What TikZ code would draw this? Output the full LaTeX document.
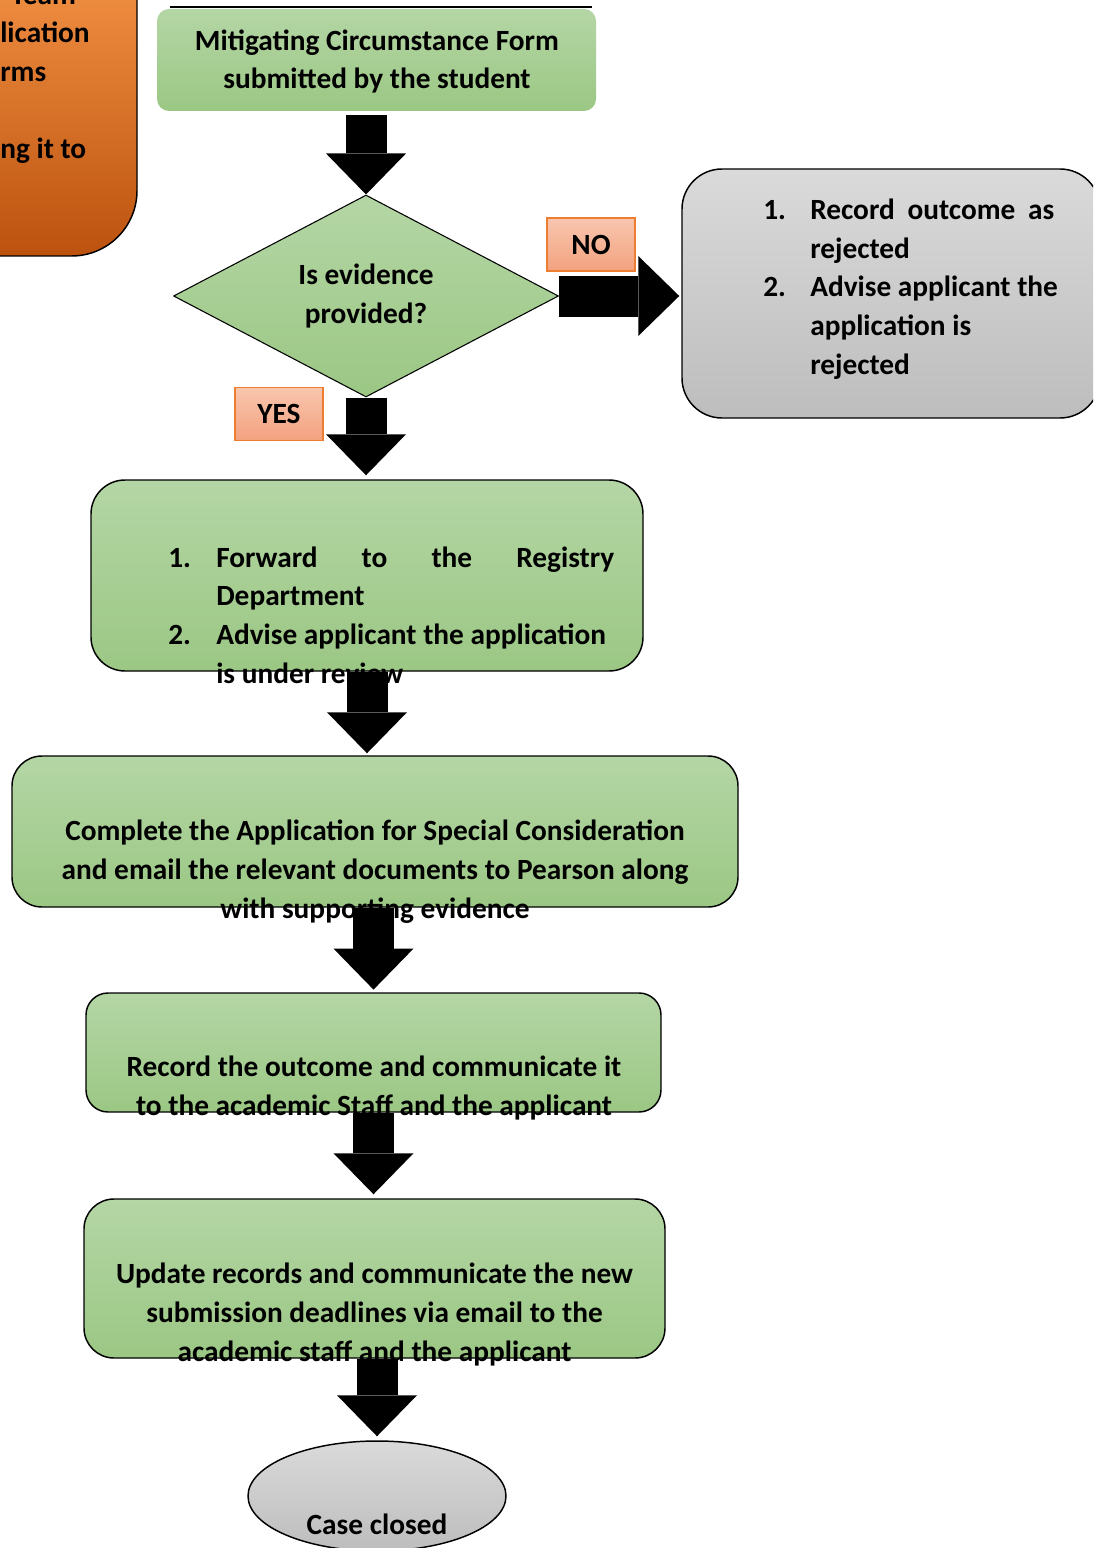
\documentclass[tikz,border=0pt]{standalone}
\usepackage{fontspec}
\setmainfont{Carlito}
\usetikzlibrary{shapes.geometric,arrows.meta}

\definecolor{grn1}{HTML}{B4D6A5}
\definecolor{grn2}{HTML}{9BC784}
\definecolor{gry1}{HTML}{DADADA}
\definecolor{gry2}{HTML}{BDBDBD}
\definecolor{tag1}{HTML}{F8C6AE}
\definecolor{tag2}{HTML}{F3A27F}
\definecolor{tagline}{HTML}{ED7D31}
\definecolor{orn1}{HTML}{FFA051}
\definecolor{orn2}{HTML}{BC520E}

\tikzset{
  every node/.style={font=\bfseries\fontsize{22}{29}\selectfont, inner sep=0pt},
  greenfill/.style={top color=grn1, bottom color=grn2},
  greenbox/.style={greenfill, draw=black, line width=1.1pt},
  greybox/.style={top color=gry1, bottom color=gry2, draw=black, line width=1.1pt},
  tagbox/.style={top color=tag1, bottom color=tag2, draw=tagline, line width=1.1pt, minimum width=66pt, minimum height=39.75pt},
  bigarrow/.style={draw=black, line width=30.75pt, -{Triangle[width=60pt,length=30.75pt,line width=0pt]}},
}

\begin{document}
\begin{tikzpicture}[x=0.75pt, y=-0.75pt]
\useasboundingbox (0,0) rectangle (1093,1548);
\clip (0,0) rectangle (1093,1548);

\node [top color=orn1, bottom color=orn2, draw=black, line width=1.1pt, rounded corners=49pt, minimum width=252.75pt, minimum height=267pt] (v0) at (-31.5,78) {};
\node [anchor=base west, align=left] (t0) at (0,159) {\hspace*{8pt}Team\\lication\\rms\\[29pt]ng it to};

\node [greenfill, rounded corners=9pt, minimum width=329.25pt, minimum height=76.5pt] (v1) at (376.5,60) {};
\draw [line width=1.3pt] (v1.north west) ++(13,-2) -- ++(422,0);
\node [anchor=base, align=center] (t1) at (377,89) {Mitigating Circumstance Form\\submitted by the student};

\node [diamond, greenfill, draw=black, line width=0.8pt, minimum width=288.75pt, minimum height=151.5pt, align=center] (v2) at (366,296) {Is evidence\\provided?};

\node [tagbox] (v3) at (591,244.5) {NO};
\node [tagbox] (v4) at (279,414) {YES};

\node [greybox, rounded corners=30pt, minimum width=313.5pt, minimum height=186.75pt] (v5) at (891,293.5) {};
\node [anchor=base west, align=left] (t5) at (763,374) {\makebox[35.25pt][l]{1.}\makebox[183pt][s]{Record outcome as}\\\hspace*{35.25pt}rejected\\\makebox[35.25pt][l]{2.}Advise applicant the\\\hspace*{35.25pt}application is\\\hspace*{35.25pt}rejected};

\node [greenbox, rounded corners=25.5pt, minimum width=414pt, minimum height=143.25pt] (v6) at (367,575.5) {};
\node [anchor=base west, align=left] (t6) at (168,683) {\makebox[36pt][l]{1.}\makebox[298.5pt][s]{Forward to the Registry}\\\hspace*{36pt}Department\\\makebox[36pt][l]{2.}Advise applicant the application\\\hspace*{36pt}is under review};

\node [greenbox, rounded corners=22.5pt, minimum width=544.5pt, minimum height=113.25pt] (v7) at (375,831.5) {};
\node [anchor=base, align=center] (t7) at (375,918) {Complete the Application for Special Consideration\\and email the relevant documents to Pearson along\\with supporting evidence};

\node [greenbox, rounded corners=16.5pt, minimum width=431.25pt, minimum height=89.25pt] (v8) at (373.5,1052.5) {};
\node [anchor=base, align=center] (t8) at (374,1115) {Record the outcome and communicate it\\to the academic Staff and the applicant};

\node [greenbox, rounded corners=22.5pt, minimum width=435.75pt, minimum height=119.25pt] (v9) at (374.5,1278.5) {};
\node [anchor=base, align=center] (t9) at (374.5,1361) {Update records and communicate the new\\submission deadlines via email to the\\academic staff and the applicant};

\node [ellipse, greybox, minimum width=193.5pt, minimum height=82.5pt] (v10) at (377,1496) {};
\node [anchor=base] (t10) at (377,1534) {Case closed};

\draw [bigarrow, shorten <=3pt] (v1.south -| v2.north) -- (v2.north);
\draw [bigarrow, shorten >=1.5pt] (v2.east) -- (v2.east -| v5.west);
\draw [bigarrow, shorten >=3pt] (v2.south) -- (v2.south |- v6.north);
\draw [bigarrow, shorten >=1.5pt] (v6.south) -- (v6.south |- v7.north);
\draw [bigarrow, shorten >=2pt] (v8.north |- v7.south) -- (v8.north);
\draw [bigarrow, shorten >=3pt] (v8.south) -- (v8.south |- v9.north);
\draw [bigarrow, shorten >=3pt] (v10.north |- v9.south) -- (v10.north);
\end{tikzpicture}
\end{document}
